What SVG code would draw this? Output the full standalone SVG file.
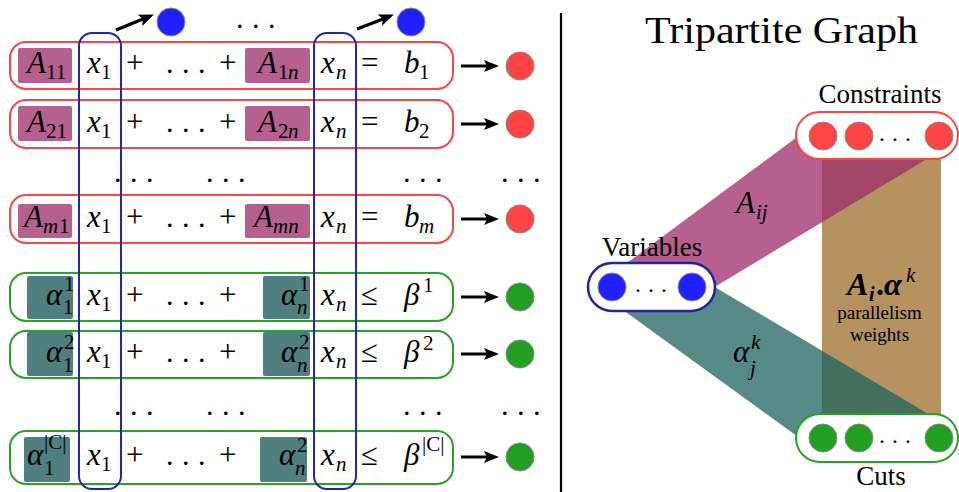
<svg xmlns="http://www.w3.org/2000/svg" width="959" height="492" viewBox="0 0 959 492" style="font-family:'Liberation Serif',serif">
<rect width="959" height="492" fill="#fff"/>

<g id="row1">
<rect fill="none" stroke="#ff4444" stroke-width="2" x="10" y="42" width="443" height="47" rx="16"/>
<rect fill="#b5608f" x="18" y="48" width="54" height="35" rx="2"/>
<rect fill="#b5608f" x="245" y="48" width="65" height="35" rx="2"/>
<text font-family="Liberation Serif, serif" font-size="31" font-style="italic" x="27" y="73">A</text><text font-family="Liberation Serif, serif" font-size="21" x="46" y="79">11</text>
<text font-family="Liberation Serif, serif" font-size="31" font-style="italic" x="87" y="73">x</text><text font-family="Liberation Serif, serif" font-size="21" x="101" y="79">1</text>
<text font-family="Liberation Serif, serif" font-size="31" x="126" y="73">+</text>
<text font-family="Liberation Serif, serif" font-size="30" letter-spacing="8.5" x="166" y="73">...</text>
<text font-family="Liberation Serif, serif" font-size="31" x="219" y="73">+</text>
<text font-family="Liberation Serif, serif" font-size="31" font-style="italic" x="258" y="73">A</text><text font-family="Liberation Serif, serif" font-size="21" x="278" y="79">1</text><text font-family="Liberation Serif, serif" font-size="21" font-style="italic" x="288" y="79">n</text>
<text font-family="Liberation Serif, serif" font-size="31" font-style="italic" x="321" y="73">x</text><text font-family="Liberation Serif, serif" font-size="21" font-style="italic" x="336" y="79">n</text>
<text font-family="Liberation Serif, serif" font-size="31" x="361" y="73">=</text>
<text font-family="Liberation Serif, serif" font-size="31" font-style="italic" x="404" y="73">b</text><text font-family="Liberation Serif, serif" font-size="21" x="419" y="79">1</text>
</g>
<g id="row2">
<rect fill="none" stroke="#ff4444" stroke-width="2" x="10" y="100" width="443" height="48" rx="16"/>
<rect fill="#b5608f" x="18" y="106" width="54" height="35" rx="2"/>
<rect fill="#b5608f" x="245" y="106" width="65" height="35" rx="2"/>
<text font-family="Liberation Serif, serif" font-size="31" font-style="italic" x="27" y="131.5">A</text><text font-family="Liberation Serif, serif" font-size="21" x="46" y="137.5">21</text>
<text font-family="Liberation Serif, serif" font-size="31" font-style="italic" x="87" y="131.5">x</text><text font-family="Liberation Serif, serif" font-size="21" x="101" y="137.5">1</text>
<text font-family="Liberation Serif, serif" font-size="31" x="126" y="131.5">+</text>
<text font-family="Liberation Serif, serif" font-size="30" letter-spacing="8.5" x="166" y="131.5">...</text>
<text font-family="Liberation Serif, serif" font-size="31" x="219" y="131.5">+</text>
<text font-family="Liberation Serif, serif" font-size="31" font-style="italic" x="258" y="131.5">A</text><text font-family="Liberation Serif, serif" font-size="21" x="278" y="137.5">2</text><text font-family="Liberation Serif, serif" font-size="21" font-style="italic" x="288" y="137.5">n</text>
<text font-family="Liberation Serif, serif" font-size="31" font-style="italic" x="321" y="131.5">x</text><text font-family="Liberation Serif, serif" font-size="21" font-style="italic" x="336" y="137.5">n</text>
<text font-family="Liberation Serif, serif" font-size="31" x="361" y="131.5">=</text>
<text font-family="Liberation Serif, serif" font-size="31" font-style="italic" x="404" y="131.5">b</text><text font-family="Liberation Serif, serif" font-size="21" x="419" y="137.5">2</text>
</g>
<g id="dots1">
<text font-family="Liberation Serif, serif" font-size="30" letter-spacing="8.5" x="114" y="182">...</text>
<text font-family="Liberation Serif, serif" font-size="30" letter-spacing="8.5" x="206" y="182">...</text>
<text font-family="Liberation Serif, serif" font-size="30" letter-spacing="8.5" x="403" y="182">...</text>
<text font-family="Liberation Serif, serif" font-size="30" letter-spacing="8.5" x="501" y="182">...</text>
</g>
<g id="rowm">
<rect fill="none" stroke="#ff4444" stroke-width="2" x="10" y="195" width="443" height="48" rx="16"/>
<rect fill="#b5608f" x="18" y="204" width="54" height="34" rx="2"/>
<rect fill="#b5608f" x="245" y="204" width="65" height="34" rx="2"/>
<text font-family="Liberation Serif, serif" font-size="31" font-style="italic" x="24" y="226.5">A</text><text font-family="Liberation Serif, serif" font-size="21" font-style="italic" x="43" y="232.5">m</text><text font-family="Liberation Serif, serif" font-size="21" x="59" y="232.5">1</text>
<text font-family="Liberation Serif, serif" font-size="31" font-style="italic" x="87" y="226.5">x</text><text font-family="Liberation Serif, serif" font-size="21" x="101" y="232.5">1</text>
<text font-family="Liberation Serif, serif" font-size="31" x="126" y="226.5">+</text>
<text font-family="Liberation Serif, serif" font-size="30" letter-spacing="8.5" x="166" y="226.5">...</text>
<text font-family="Liberation Serif, serif" font-size="31" x="219" y="226.5">+</text>
<text font-family="Liberation Serif, serif" font-size="31" font-style="italic" x="254" y="226.5">A</text><text font-family="Liberation Serif, serif" font-size="21" font-style="italic" x="273" y="232.5">mn</text>
<text font-family="Liberation Serif, serif" font-size="31" font-style="italic" x="321" y="226.5">x</text><text font-family="Liberation Serif, serif" font-size="21" font-style="italic" x="336" y="232.5">n</text>
<text font-family="Liberation Serif, serif" font-size="31" x="361" y="226.5">=</text>
<text font-family="Liberation Serif, serif" font-size="31" font-style="italic" x="404" y="226.5">b</text><text font-family="Liberation Serif, serif" font-size="21" font-style="italic" x="419" y="232.5">m</text>
</g>
<g id="rowg1">
<rect fill="none" stroke="#27a327" stroke-width="2" x="10" y="273" width="443" height="48" rx="16"/>
<rect fill="#4f7f7e" x="27" y="276" width="46" height="43" rx="2"/>
<rect fill="#4f7f7e" x="263" y="276" width="47" height="43" rx="2"/>
<text font-family="Liberation Serif, serif" font-size="31" font-style="italic" x="46" y="304.5">α</text><text font-family="Liberation Serif, serif" font-size="21" x="64" y="291">1</text><text font-family="Liberation Serif, serif" font-size="21" x="63" y="314">1</text>
<text font-family="Liberation Serif, serif" font-size="31" font-style="italic" x="87" y="304.5">x</text><text font-family="Liberation Serif, serif" font-size="21" x="101" y="310.5">1</text>
<text font-family="Liberation Serif, serif" font-size="31" x="126" y="304.5">+</text>
<text font-family="Liberation Serif, serif" font-size="30" letter-spacing="8.5" x="166" y="304.5">...</text>
<text font-family="Liberation Serif, serif" font-size="31" x="219" y="304.5">+</text>
<text font-family="Liberation Serif, serif" font-size="31" font-style="italic" x="281" y="304.5">α</text><text font-family="Liberation Serif, serif" font-size="21" x="299" y="291">1</text><text font-family="Liberation Serif, serif" font-size="21" font-style="italic" x="297" y="314">n</text>
<text font-family="Liberation Serif, serif" font-size="31" font-style="italic" x="321" y="304.5">x</text><text font-family="Liberation Serif, serif" font-size="21" font-style="italic" x="336" y="310.5">n</text>
<text font-family="Liberation Serif, serif" font-size="31" x="361" y="304.5">≤</text>
<text font-family="Liberation Serif, serif" font-size="31" font-style="italic" x="404" y="304.5">β</text><text font-family="Liberation Serif, serif" font-size="21" x="423" y="292">1</text>
</g>
<g id="rowg2">
<rect fill="none" stroke="#27a327" stroke-width="2" x="10" y="331" width="443" height="47" rx="16"/>
<rect fill="#4f7f7e" x="27" y="332" width="46" height="44" rx="2"/>
<rect fill="#4f7f7e" x="263" y="332" width="47" height="44" rx="2"/>
<text font-family="Liberation Serif, serif" font-size="31" font-style="italic" x="46" y="362">α</text><text font-family="Liberation Serif, serif" font-size="21" x="64" y="348.5">2</text><text font-family="Liberation Serif, serif" font-size="21" x="63" y="371.5">1</text>
<text font-family="Liberation Serif, serif" font-size="31" font-style="italic" x="87" y="362">x</text><text font-family="Liberation Serif, serif" font-size="21" x="101" y="368">1</text>
<text font-family="Liberation Serif, serif" font-size="31" x="126" y="362">+</text>
<text font-family="Liberation Serif, serif" font-size="30" letter-spacing="8.5" x="166" y="362">...</text>
<text font-family="Liberation Serif, serif" font-size="31" x="219" y="362">+</text>
<text font-family="Liberation Serif, serif" font-size="31" font-style="italic" x="281" y="362">α</text><text font-family="Liberation Serif, serif" font-size="21" x="299" y="348.5">2</text><text font-family="Liberation Serif, serif" font-size="21" font-style="italic" x="297" y="371.5">n</text>
<text font-family="Liberation Serif, serif" font-size="31" font-style="italic" x="321" y="362">x</text><text font-family="Liberation Serif, serif" font-size="21" font-style="italic" x="336" y="368">n</text>
<text font-family="Liberation Serif, serif" font-size="31" x="361" y="362">≤</text>
<text font-family="Liberation Serif, serif" font-size="31" font-style="italic" x="404" y="362">β</text><text font-family="Liberation Serif, serif" font-size="21" x="423" y="349.5">2</text>
</g>
<g id="dots2">
<text font-family="Liberation Serif, serif" font-size="30" letter-spacing="8.5" x="114" y="415">...</text>
<text font-family="Liberation Serif, serif" font-size="30" letter-spacing="8.5" x="206" y="415">...</text>
<text font-family="Liberation Serif, serif" font-size="30" letter-spacing="8.5" x="403" y="415">...</text>
<text font-family="Liberation Serif, serif" font-size="30" letter-spacing="8.5" x="501" y="415">...</text>
</g>
<g id="rowgC">
<rect fill="none" stroke="#27a327" stroke-width="2" x="10" y="431" width="443" height="53" rx="16"/>
<rect fill="#4f7f7e" x="24" y="437" width="46" height="45" rx="2"/>
<rect fill="#4f7f7e" x="260" y="437" width="47" height="45" rx="2"/>
<text font-family="Liberation Serif, serif" font-size="31" font-style="italic" x="27" y="465">α</text><text font-family="Liberation Serif, serif" font-size="21" x="44" y="449">|C|</text><text font-family="Liberation Serif, serif" font-size="21" x="44" y="475">1</text>
<text font-family="Liberation Serif, serif" font-size="31" font-style="italic" x="87" y="465">x</text><text font-family="Liberation Serif, serif" font-size="21" x="101" y="471">1</text>
<text font-family="Liberation Serif, serif" font-size="31" x="126" y="465">+</text>
<text font-family="Liberation Serif, serif" font-size="30" letter-spacing="8.5" x="166" y="465">...</text>
<text font-family="Liberation Serif, serif" font-size="31" x="219" y="465">+</text>
<text font-family="Liberation Serif, serif" font-size="31" font-style="italic" x="279" y="465">α</text><text font-family="Liberation Serif, serif" font-size="21" x="297" y="452">2</text><text font-family="Liberation Serif, serif" font-size="21" font-style="italic" x="295" y="474.5">n</text>
<text font-family="Liberation Serif, serif" font-size="31" font-style="italic" x="321" y="465">x</text><text font-family="Liberation Serif, serif" font-size="21" font-style="italic" x="336" y="471">n</text>
<text font-family="Liberation Serif, serif" font-size="31" x="361" y="465">≤</text>
<text font-family="Liberation Serif, serif" font-size="31" font-style="italic" x="404" y="465">β</text><text font-family="Liberation Serif, serif" font-size="21" x="422" y="451">|C|</text>
</g>

<g id="col1"><rect fill="none" stroke="#2525a8" stroke-width="2" x="79" y="33" width="42" height="456" rx="13"/></g>
<g id="coln"><rect fill="none" stroke="#2525a8" stroke-width="2" x="314" y="33" width="42" height="456" rx="13"/></g>

<g id="var1"><circle fill="#2020ff" stroke="#888" cx="171" cy="22" r="14"/></g>
<g id="vartop-dots"><text font-family="Liberation Serif, serif" font-size="30" letter-spacing="8.5" x="236" y="28">...</text></g>
<g id="varn"><circle fill="#2020ff" stroke="#888" cx="411" cy="22" r="14"/></g>

<g id="c1"><circle fill="#ff4444" stroke="#888" cx="520" cy="66" r="14"/></g>
<g id="c2"><circle fill="#ff4444" stroke="#888" cx="520" cy="124" r="14"/></g>
<g id="cm"><circle fill="#ff4444" stroke="#888" cx="520" cy="219" r="14"/></g>
<g id="k1"><circle fill="#22a022" stroke="#888" cx="520" cy="297" r="14"/></g>
<g id="k2"><circle fill="#22a022" stroke="#888" cx="520" cy="354" r="14"/></g>
<g id="kC"><circle fill="#22a022" stroke="#888" cx="520" cy="457" r="14"/></g>

<g id="connectors">
<g stroke="#000" stroke-width="3" fill="none">
<line x1="116" y1="30" x2="143" y2="19"/>
<line x1="357" y1="29" x2="383" y2="19"/>
<line x1="461" y1="66" x2="489" y2="66"/>
<line x1="461" y1="124" x2="489" y2="124"/>
<line x1="461" y1="219" x2="489" y2="219"/>
<line x1="461" y1="297" x2="489" y2="297"/>
<line x1="461" y1="354" x2="489" y2="354"/>
<line x1="461" y1="457" x2="489" y2="457"/>
</g>
<g fill="#000">
<polygon points="153.9,14.6 142.3,25.9 142.8,19.1 137.8,14.7"/>
<polygon points="393.9,14.6 382.1,25.7 382.8,19.0 377.8,14.5"/>
<polygon points="499,66 484,60 487,66 484,72"/>
<polygon points="499,124 484,118 487,124 484,130"/>
<polygon points="499,219 484,213 487,219 484,225"/>
<polygon points="499,297 484,291 487,297 484,303"/>
<polygon points="499,354 484,348 487,354 484,360"/>
<polygon points="499,457 484,451 487,457 484,463"/>
</g>
</g>

<line x1="561" y1="13" x2="561" y2="492" stroke="#000" stroke-width="2.2"/>

<text font-family="Liberation Serif, serif" x="645" y="43" font-size="37" textLength="273" lengthAdjust="spacingAndGlyphs">Tripartite Graph</text>

<g id="bands">
<rect x="822" y="150" width="119" height="275" fill="#9c6e2a" fill-opacity="0.75"/>
<polygon points="612,274 812,126 935,154 708,291" fill="#9c2b6a" fill-opacity="0.75"/>
<polygon points="708,283 935,418 812,447 612,302" fill="#1e635f" fill-opacity="0.75"/>
</g>
<g id="edge-labels">
<text font-family="Liberation Serif, serif" font-size="31" font-style="italic" x="736" y="213">A</text><text font-family="Liberation Serif, serif" font-size="21" font-style="italic" x="756" y="219">ij</text>
<text font-family="Liberation Serif, serif" font-size="31" font-style="italic" x="733" y="362">α</text><text font-family="Liberation Serif, serif" font-size="21" font-style="italic" x="751" y="349">k</text><text font-family="Liberation Serif, serif" font-size="21" font-style="italic" x="750" y="375">j</text>
<text font-family="Liberation Serif, serif" x="847" y="295" font-size="32" font-weight="bold" font-style="italic">A</text><text font-family="Liberation Serif, serif" x="869" y="301" font-size="20" font-weight="bold" font-style="italic">i</text><text font-family="Liberation Serif, serif" x="876" y="295" font-size="32" font-weight="bold">.</text><text font-family="Liberation Serif, serif" x="884" y="295" font-size="32" font-weight="bold" font-style="italic">α</text><text font-family="Liberation Serif, serif" x="906" y="282" font-size="21" font-style="italic">k</text>
<text font-family="Liberation Serif, serif" x="879.5" y="319" font-size="19" text-anchor="middle">parallelism</text>
<text font-family="Liberation Serif, serif" x="879.5" y="341" font-size="19" text-anchor="middle">weights</text>
</g>

<g id="constraints">
<rect x="796" y="112" width="162" height="47" rx="23.5" fill="#fff" stroke="#ff4444" stroke-width="2"/>
<circle fill="#ff4444" stroke="#888" cx="823" cy="136" r="14"/>
<circle fill="#ff4444" stroke="#888" cx="859" cy="136" r="14"/>
<text font-family="Liberation Serif, serif" font-size="24" letter-spacing="7" x="879" y="141">...</text>
<circle fill="#ff4444" stroke="#888" cx="939" cy="136" r="14"/>
<text font-family="Liberation Serif, serif" font-size="27" x="880" y="103" text-anchor="middle">Constraints</text>
</g>

<g id="variables">
<rect x="588" y="263" width="127" height="48" rx="24" fill="#fff" stroke="#2323a0" stroke-width="2.5"/>
<circle fill="#2020ff" stroke="#888" cx="612" cy="287" r="14"/>
<text font-family="Liberation Serif, serif" font-size="24" letter-spacing="7" x="635" y="292">...</text>
<circle fill="#2020ff" stroke="#888" cx="692" cy="287" r="14"/>
<text font-family="Liberation Serif, serif" font-size="27" x="652" y="256" text-anchor="middle">Variables</text>
</g>

<g id="cuts">
<rect x="796" y="414" width="162" height="48" rx="24" fill="#fff" stroke="#27a327" stroke-width="2"/>
<circle fill="#22a022" stroke="#888" cx="823" cy="438" r="14"/>
<circle fill="#22a022" stroke="#888" cx="859" cy="438" r="14"/>
<text font-family="Liberation Serif, serif" font-size="24" letter-spacing="7" x="879" y="443">...</text>
<circle fill="#22a022" stroke="#888" cx="939" cy="438" r="14"/>
<text font-family="Liberation Serif, serif" font-size="27" x="881" y="485" text-anchor="middle">Cuts</text>
</g>
</svg>
